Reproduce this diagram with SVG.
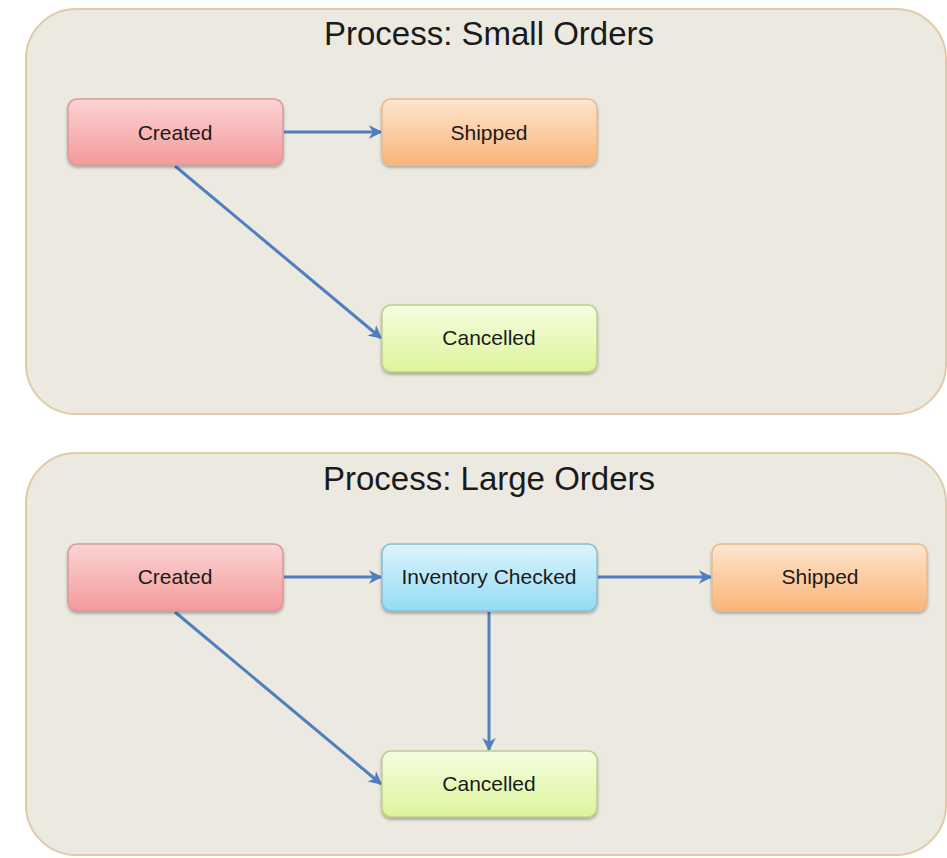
<svg xmlns="http://www.w3.org/2000/svg" width="947" height="858" viewBox="0 0 947 858">
<style>
.cont{fill:#ece9e1;stroke:#e2c9a8;stroke-width:2}
.title{font-family:"Liberation Sans",Arial,sans-serif;font-size:33px;fill:#1a1a1a;text-anchor:middle}
.lbl{font-family:"Liberation Sans",Arial,sans-serif;font-size:21px;fill:#1a1a1a;text-anchor:middle}
.box{stroke-width:1.5;filter:url(#sh)}
.conn{stroke:#4f7fbf;stroke-width:3;fill:none;marker-end:url(#ah)}
</style>
<defs>
<filter id="sh" x="-10%" y="-10%" width="120%" height="130%"><feDropShadow dx="0" dy="2" stdDeviation="1.5" flood-color="#000" flood-opacity="0.3"/></filter>
<linearGradient id="gRed" x1="0" y1="0" x2="0" y2="1"><stop offset="0" stop-color="#fcd3d3"/><stop offset="1" stop-color="#f39a9b"/></linearGradient>
<linearGradient id="gOr" x1="0" y1="0" x2="0" y2="1"><stop offset="0" stop-color="#fde6cf"/><stop offset="1" stop-color="#fbb478"/></linearGradient>
<linearGradient id="gGr" x1="0" y1="0" x2="0" y2="1"><stop offset="0" stop-color="#f6fde0"/><stop offset="1" stop-color="#dbf59a"/></linearGradient>
<linearGradient id="gBl" x1="0" y1="0" x2="0" y2="1"><stop offset="0" stop-color="#dcf4fc"/><stop offset="1" stop-color="#94dbf5"/></linearGradient>
<marker id="ah" viewBox="0 0 10 10" refX="9" refY="5" markerWidth="4.5" markerHeight="4.5" orient="auto" markerUnits="strokeWidth"><path d="M0,0 L10,5 L0,10 L3,5 Z" fill="#4f7fbf"/></marker>
</defs>
<rect width="947" height="858" fill="#ffffff"/>
<g id="small-orders">
<rect class="cont" x="26" y="9" width="920" height="405" rx="50"/>
<text class="title" x="489" y="45">Process: Small Orders</text>
</g>
<g id="large-orders">
<rect class="cont" x="26" y="453" width="920" height="402" rx="50"/>
<text class="title" x="489" y="490">Process: Large Orders</text>
</g>
<g id="connectors">
<line class="conn" x1="284" y1="132" x2="381" y2="132"/>
<line class="conn" x1="175" y1="166" x2="381" y2="338"/>
<line class="conn" x1="284" y1="577" x2="381" y2="577"/>
<line class="conn" x1="598" y1="577" x2="711" y2="577"/>
<line class="conn" x1="489" y1="612" x2="489" y2="750"/>
<line class="conn" x1="175" y1="612" x2="381" y2="784"/>
</g>
<g id="s-created"><rect class="box" x="68" y="99" width="215" height="66" rx="9" fill="url(#gRed)" stroke="#d9999a"/><text class="lbl" x="175" y="140">Created</text></g>
<g id="s-shipped"><rect class="box" x="382" y="99" width="215" height="66" rx="9" fill="url(#gOr)" stroke="#e8b98a"/><text class="lbl" x="489" y="140">Shipped</text></g>
<g id="s-cancelled"><rect class="box" x="382" y="305" width="215" height="67" rx="9" fill="url(#gGr)" stroke="#bccf8c"/><text class="lbl" x="489" y="345">Cancelled</text></g>
<g id="l-created"><rect class="box" x="68" y="544" width="215" height="67" rx="9" fill="url(#gRed)" stroke="#d9999a"/><text class="lbl" x="175" y="584">Created</text></g>
<g id="l-inventory"><rect class="box" x="382" y="544" width="215" height="67" rx="9" fill="url(#gBl)" stroke="#86bdd3"/><text class="lbl" x="489" y="584">Inventory Checked</text></g>
<g id="l-shipped"><rect class="box" x="712" y="544" width="215" height="67" rx="9" fill="url(#gOr)" stroke="#e8b98a"/><text class="lbl" x="820" y="584">Shipped</text></g>
<g id="l-cancelled"><rect class="box" x="382" y="751" width="215" height="66" rx="9" fill="url(#gGr)" stroke="#bccf8c"/><text class="lbl" x="489" y="791">Cancelled</text></g>
</svg>
